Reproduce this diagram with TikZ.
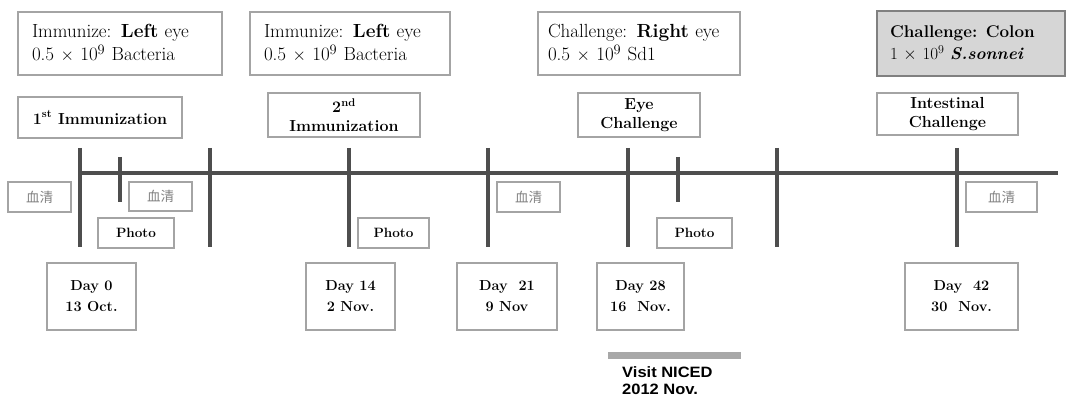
\documentclass[tikz,border=0pt]{standalone}
\usepackage{fontspec}
\newfontfamily\cjkfont{Noto Sans CJK JP}
\newfontfamily\arialfont[FakeStretch=1.1]{Liberation Sans}
\definecolor{boxgray}{HTML}{A4A4A4}
\definecolor{linegray}{HTML}{4E4E4E}
\definecolor{fillgray}{HTML}{D6D6D6}
\definecolor{bargray}{HTML}{A8A8A8}

\begin{document}
\begin{tikzpicture}[x=1pt,y=-1pt,
    box/.style={draw=boxgray,line width=1.3pt,rectangle,inner sep=0pt},
    notebox/.style={box,align=left,inner xsep=14pt,font=\fontsize{19}{23}\selectfont,minimum height=63pt},
    stagebox/.style={box,align=center,font=\fontsize{16}{18.5}\selectfont\bfseries},
    serumbox/.style={box,minimum height=30pt,text=gray,font=\cjkfont\fontsize{13.5}{15}\selectfont},
    photobox/.style={box,minimum height=30pt,font=\fontsize{13.5}{16}\selectfont\bfseries},
    daybox/.style={box,align=center,minimum height=67pt,font=\fontsize{14.5}{21}\selectfont\bfseries},
    axis/.style={draw=linegray,line width=4pt}]
    \useasboundingbox (0,0) rectangle (1066,403);

    \node[notebox,text width=176pt] (imm1) at (120,43.5)
      {Immunize: \textbf{Left} eye\\0.5 $\times$ 10$^{9}$ Bacteria};
    \node[notebox,text width=172pt] (imm2) at (350,43.5)
      {Immunize: \textbf{Left} eye\\0.5 $\times$ 10$^{9}$ Bacteria};
    \node[notebox,inner xsep=10pt,text width=182pt] (chal1) at (639,43.5)
      {Challenge: \textbf{Right} eye\\0.5 $\times$ 10$^{9}$ Sd1};
    \node[notebox,inner xsep=13pt,text width=162pt,minimum height=65pt,fill=fillgray,draw=gray,line width=2pt,
      font=\fontsize{17}{22}\selectfont] (chal2) at (971,43.5)
      {\textbf{Challenge: Colon}\\1 $\times$ 10$^{9}$ \textbf{\textit{S.sonnei}}};

    \node[stagebox,minimum width=164pt,minimum height=41pt] (st1) at (100,117.5)
      {1\textsuperscript{st} Immunization};
    \node[stagebox,minimum width=152pt,minimum height=44pt] (st2) at (344,115)
      {2\textsuperscript{nd}\\Immunization};
    \node[stagebox,minimum width=122pt,minimum height=44pt] (st3) at (639,115)
      {Eye\\Challenge};
    \node[stagebox,minimum width=141pt,minimum height=42pt] (st4) at (947.5,114)
      {Intestinal\\Challenge};

    \coordinate (start) at (80,173);
    \coordinate (end) at (1058,173);
    \draw[axis] (start) -- (end);
    \foreach \x in {80,210,349,488,628,777,957}
      \draw[axis] (\x,148) -- (\x,247);
    \foreach \x in {120,678}
      \draw[axis] (\x,157) -- (\x,202);

    \node[serumbox,minimum width=63pt] (ser1) at (39.5,197) {血清};
    \node[serumbox,minimum width=63pt,minimum height=29pt] (ser2) at (160.5,196.5) {血清};
    \node[serumbox,minimum width=63pt] (ser3) at (528.5,197) {血清};
    \node[serumbox,minimum width=71pt] (ser4) at (1001.5,197) {血清};

    \node[photobox,minimum width=76pt] (ph1) at (136,233) {Photo};
    \node[photobox,minimum width=71pt] (ph2) at (393.5,233) {Photo};
    \node[photobox,minimum width=75pt] (ph3) at (694.5,233) {Photo};

    \node[daybox,minimum width=89pt] (day0) at (91.5,296.5) {Day 0\\13 Oct.};
    \node[daybox,minimum width=89pt] (day14) at (350.5,296.5) {Day 14\\2 Nov.};
    \node[daybox,minimum width=100pt] (day21) at (507,296.5) {Day\ \ 21\\9 Nov};
    \node[daybox,minimum width=87pt] (day28) at (640.5,296.5) {Day 28\\16\ \ Nov.};
    \node[daybox,minimum width=113pt] (day42) at (961.5,296.5) {Day\ \ 42\\30\ \ Nov.};

    \node[fill=bargray,inner sep=0pt,minimum width=133pt,minimum height=7pt] (visitbar) at (674.5,355.5) {};
    \node[anchor=north west,align=left,inner sep=0pt,font=\arialfont\bfseries\fontsize{15}{17}\selectfont] (visit) at (622,366)
      {Visit NICED\\2012 Nov.};
\end{tikzpicture}
\end{document}
